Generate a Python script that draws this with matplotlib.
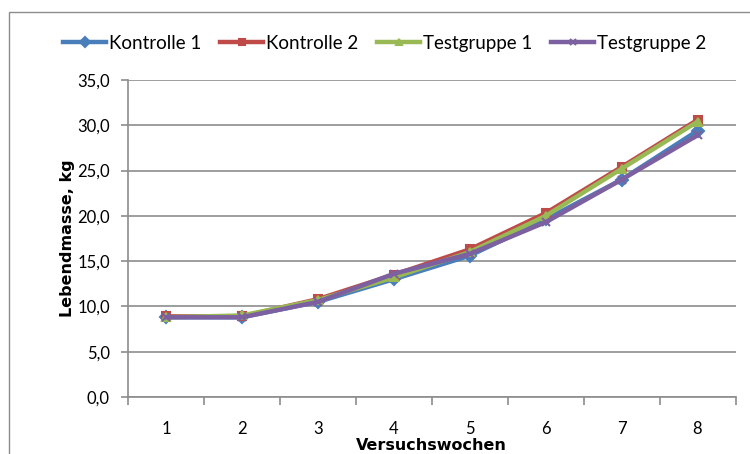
import matplotlib

matplotlib.use("Agg")
import matplotlib.pyplot as plt
from matplotlib.patches import Rectangle
from matplotlib.ticker import FixedLocator, FuncFormatter

plt.rcParams["font.family"] = ["Lato", "DejaVu Sans"]

weeks = [1, 2, 3, 4, 5, 6, 7, 8]
kontrolle_1 = [8.8, 8.8, 10.5, 13.0, 15.6, 19.6, 24.0, 29.4]
kontrolle_2 = [8.9, 8.9, 10.8, 13.5, 16.3, 20.3, 25.4, 30.6]
testgruppe_1 = [8.8, 9.0, 10.7, 13.2, 16.0, 20.0, 25.2, 30.4]
testgruppe_2 = [8.8, 8.8, 10.5, 13.6, 15.8, 19.3, 24.0, 28.9]

series = [
    ("Kontrolle 1", kontrolle_1, "#4A7EBB", "D"),
    ("Kontrolle 2", kontrolle_2, "#BE4B48", "s"),
    ("Testgruppe 1", testgruppe_1, "#98B954", "^"),
    ("Testgruppe 2", testgruppe_2, "#7D60A0", "x"),
]

fig = plt.figure(figsize=(7.5, 4.54), dpi=100)
ax = fig.add_axes([0.1707, 0.1256, 0.81, 0.6982])

# outer chart frame (Excel style), cut off at right/bottom like the original
fig.patches.append(Rectangle((0.012, -0.1), 1.2, 1.074, transform=fig.transFigure,
                             fill=False, edgecolor="#8c8c8c", linewidth=1.0))

for label, vals, col, mk in series:
    ax.plot(weeks, vals, color=col, linewidth=3.2, marker=mk, markersize=6,
            markeredgewidth=1.5, markeredgecolor=col, label=label, zorder=3)

ax.set_xlim(0.5, 8.5)
ax.set_ylim(0, 35)
ax.set_yticks([0, 5, 10, 15, 20, 25, 30, 35])
ax.yaxis.set_major_formatter(FuncFormatter(lambda v, p: f"{v:.1f}".replace(".", ",")))
ax.set_xticks(weeks)
ax.set_xticklabels([str(w) for w in weeks])
ax.xaxis.set_minor_locator(FixedLocator([w + 0.5 for w in range(0, 9)]))
ax.tick_params(axis="x", which="major", length=0, pad=17, labelsize=12)
ax.tick_params(axis="x", which="minor", length=6, color="#8c8c8c", width=1.2)
ax.tick_params(axis="y", length=5, color="#8c8c8c", width=1.2, labelsize=12, pad=8)

ax.grid(axis="y", color="#8c8c8c", linewidth=1.2)
ax.set_axisbelow(True)
for s in ["top", "right"]:
    ax.spines[s].set_visible(False)
for s in ["left", "bottom"]:
    ax.spines[s].set_color("#8c8c8c")
    ax.spines[s].set_linewidth(1.2)

ax.set_ylabel("Lebendmasse, kg", fontsize=11.5, fontweight="bold", labelpad=2,
              family="DejaVu Sans")
ax.set_xlabel("Versuchswochen", fontsize=11.5, fontweight="bold", labelpad=1,
              family="DejaVu Sans")

ax.legend(loc="center", bbox_to_anchor=(0.513, 0.905), bbox_transform=fig.transFigure,
          ncol=4, frameon=False, fontsize=13.5, handlelength=2.3, handletextpad=0.15,
          columnspacing=1.0, markerscale=0.8)

fig.savefig("out.png", dpi=100)
